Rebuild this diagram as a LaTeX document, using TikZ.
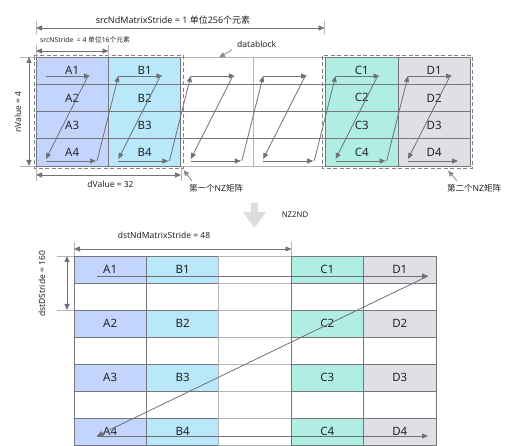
\documentclass[tikz,border=0pt]{standalone}
\usepackage{fontspec}
\setmainfont{Noto Sans}
\newfontfamily\cjk{Noto Sans CJK SC}
\usetikzlibrary{arrows.meta}
\definecolor{cA}{RGB}{196,213,253}
\definecolor{cB}{RGB}{184,232,250}
\definecolor{cC}{RGB}{176,237,226}
\definecolor{cD}{RGB}{224,224,228}
\definecolor{gridc}{RGB}{118,119,124}
\definecolor{lightc}{RGB}{180,181,185}
\definecolor{arrc}{RGB}{112,113,118}
\definecolor{txtc}{RGB}{35,35,38}
\definecolor{bigarr}{RGB}{220,221,224}
\definecolor{dashc}{RGB}{128,129,134}
\tikzset{
  cellbox/.style={draw=gridc, line width=0.9pt, inner sep=0pt, outer sep=0pt,
    minimum width=72.4pt, minimum height=27.25pt, text=txtc,
    font=\fontsize{11.5}{13}\selectfont},
  lcell/.style={cellbox, minimum height=27pt},
  wcell/.style={draw=lightc, line width=0.9pt, inner sep=0pt, outer sep=0pt,
    minimum width=72.4pt, minimum height=27.25pt},
  arr/.style={draw=arrc, line width=0.8pt, -{Triangle[length=6pt,width=5pt]}},
  dimarr/.style={draw=arrc, line width=0.8pt, {Triangle[length=6pt,width=5pt]}-{Triangle[length=6pt,width=5pt]}},
  tick/.style={draw=lightc, line width=0.8pt},
  lbl/.style={text=txtc, inner sep=0pt, font=\fontsize{8.5}{10}\selectfont},
  nzbox/.style={draw=dashc, line width=0.9pt, dash pattern=on 4pt off 2.5pt},
}
\begin{document}
\begin{tikzpicture}[x=1pt,y=-1pt]
\useasboundingbox (0,0) rectangle (522,446);
% ---------- top grid ----------
\foreach \r in {1,...,4}{
  \node[wcell] (tW\r) at ({36+72.4*2.5},{57+27.25*(\r-0.5)}) {};
  \node[wcell] (tX\r) at ({36+72.4*3.5},{57+27.25*(\r-0.5)}) {};
}
\foreach \r in {1,2,3}{
  \draw[gridc, line width=0.9pt] (tW\r.south west) -- (tX\r.south east);
}
\foreach \r in {1,...,4}{
  \node[cellbox, fill=cA] (tA\r) at ({36+72.4*0.5},{57+27.25*(\r-0.5)}) {A\r};
  \node[cellbox, fill=cB] (tB\r) at ({36+72.4*1.5},{57+27.25*(\r-0.5)}) {B\r};
  \node[cellbox, fill=cC] (tC\r) at ({36+72.4*4.5},{57+27.25*(\r-0.5)}) {C\r};
  \node[cellbox, fill=cD] (tD\r) at ({36+72.4*5.5},{57+27.25*(\r-0.5)}) {D\r};
}
% zigzag arrows
\foreach \i in {0,...,5}{
  \coordinate (ts\i) at ({36+72.4*\i+10},76);
  \coordinate (te\i) at ({36+72.4*\i+54},76);
  \coordinate (td\i) at ({36+72.4*\i+52},76);
  \coordinate (bl\i) at ({36+72.4*\i+10},159);
  \coordinate (bs\i) at ({36+72.4*\i+10},161);
  \coordinate (be\i) at ({36+72.4*\i+60},161);
  \coordinate (bu\i) at ({36+72.4*\i+61},161);
}
\foreach \i in {0,...,5}{
  \draw[arr] (ts\i) -- (te\i);
  \draw[arr] (td\i) -- (bl\i);
  \draw[arr] (bs\i) -- (be\i);
}
\foreach \i/\j in {0/1,1/2,2/3,3/4,4/5}{
  \draw[arr] (bu\i) -- (ts\j);
}
% NZ dashed boxes
\draw[nzbox] (34,55.7) rectangle (183.5,168);
\draw[nzbox] (322.5,55.7) rectangle (472.5,168.5);
% dimension: srcNdMatrixStride
\coordinate (s1a) at (36,21); \coordinate (s1b) at (36,34);
\coordinate (s2a) at (324.5,21); \coordinate (s2b) at (324.5,34);
\draw[tick] (s1a) -- (s1b);
\draw[tick] (s2a) -- (s2b);
\coordinate (sl) at (36,28); \coordinate (sr) at (324.5,28);
\draw[dimarr] (sl) -- (sr);
\node[lbl, font=\fontsize{9}{11}\selectfont] (nd) at (173,20) {srcNdMatrixStride = 1 {\cjk 单位}256{\cjk 个元素}};
% srcNStride
\coordinate (n1a) at (36,45); \coordinate (n1b) at (36,57);
\coordinate (n2a) at (108.5,45); \coordinate (n2b) at (108.5,57);
\draw[tick] (n1a) -- (n1b);
\draw[tick] (n2a) -- (n2b);
\coordinate (nl) at (36,51); \coordinate (nr) at (108.5,51);
\draw[dimarr] (nl) -- (nr);
\node[lbl, anchor=west, font=\fontsize{6.8}{8}\selectfont] (ns) at (40,39.5) {srcNStride\ \ = 4 {\cjk 单位}16{\cjk 个元素}};
% datablock
\node[lbl, anchor=west] (db) at (237,44) {datablock};
\coordinate (dbt) at (232,50); \coordinate (dbh) at (219,57.5);
\draw[arr, draw=arrc!80] (dbt) -- (dbh);
% nValue
\coordinate (v1a) at (20,57); \coordinate (v1b) at (36,57);
\coordinate (v2a) at (20,166); \coordinate (v2b) at (36,166);
\draw[tick] (v1a) -- (v1b);
\draw[tick] (v2a) -- (v2b);
\coordinate (vt) at (29,57); \coordinate (vb) at (29,166);
\draw[dimarr] (vt) -- (vb);
\node[lbl, rotate=90] (nv) at (18,112) {nValue = 4};
% dValue
\coordinate (d1a) at (36,167); \coordinate (d1b) at (36,181);
\coordinate (d2a) at (181,167); \coordinate (d2b) at (181,181);
\draw[tick] (d1a) -- (d1b);
\draw[tick] (d2a) -- (d2b);
\coordinate (dl) at (36,175); \coordinate (dr) at (181,175);
\draw[dimarr] (dl) -- (dr);
\node[lbl] (dv) at (110.5,184) {dValue = 32};
% NZ labels
\node[lbl, anchor=west] (nz1) at (189,188.5) {{\cjk 第一个}NZ{\cjk 矩阵}};
\coordinate (nz1t) at (192,181); \coordinate (nz1h) at (183.5,170);
\draw[arr, draw=arrc!80] (nz1t) -- (nz1h);
\node[lbl, anchor=west] (nz2) at (447,188.5) {{\cjk 第二个}NZ{\cjk 矩阵}};
\coordinate (nz2t) at (457,181); \coordinate (nz2h) at (448,170.5);
\draw[arr, draw=arrc!80] (nz2t) -- (nz2h);
% big down arrow
\fill[bigarr] (251,203) -- (258,203) -- (258,212) -- (266,212) -- (254.5,228) -- (243,212) -- (251,212) -- cycle;
\node[lbl, font=\fontsize{7.8}{9}\selectfont] (nz2nd) at (295,214.5) {NZ2ND};
% ---------- bottom grid ----------
\foreach \r [evaluate=\r as \y using {256+27*(2*\r-1.5)}] in {1,...,4}{
  \node[lcell, fill=cA] (bA\r) at ({74+72.4*0.5},\y) {A\r};
  \node[lcell, fill=cB] (bB\r) at ({74+72.4*1.5},\y) {B\r};
  \node[lcell, draw=lightc] (bW\r) at ({74+72.4*2.5},\y) {};
  \node[lcell, fill=cC] (bC\r) at ({74+72.4*3.5},\y) {C\r};
  \node[lcell, fill=cD] (bD\r) at ({74+72.4*4.5},\y) {D\r};
}
\foreach \r [evaluate=\r as \y using {256+27*(2*\r-0.5)}] in {1,2,3}{
  \node[lcell] (eA\r) at ({74+72.4*0.5},\y) {};
  \node[lcell] (eB\r) at ({74+72.4*1.5},\y) {};
  \node[lcell, draw=lightc] (eW\r) at ({74+72.4*2.5},\y) {};
  \node[lcell] (eC\r) at ({74+72.4*3.5},\y) {};
  \node[lcell] (eD\r) at ({74+72.4*4.5},\y) {};
}
% bottom arrows
\coordinate (p1) at (97,276); \coordinate (p2) at (428,276);
\coordinate (p3) at (97,436); \coordinate (p4) at (428,436);
\draw[arr] (p1) -- (p2);
\draw[arr] (p2) -- (p3);
\draw[arr] (p3) -- (p4);
% dstNdMatrixStride
\coordinate (m1a) at (74,242); \coordinate (m1b) at (74,256);
\coordinate (m2a) at (291.5,242); \coordinate (m2b) at (291.5,256);
\draw[tick] (m1a) -- (m1b);
\draw[tick] (m2a) -- (m2b);
\coordinate (ml) at (74,249); \coordinate (mr) at (291.5,249);
\draw[dimarr] (ml) -- (mr);
\node[lbl] (dst) at (164,235) {dstNdMatrixStride = 48};
% dstDStride
\coordinate (k1a) at (57,256); \coordinate (k1b) at (74,256);
\coordinate (k2a) at (57,310); \coordinate (k2b) at (74,310);
\draw[tick] (k1a) -- (k1b);
\draw[tick] (k2a) -- (k2b);
\coordinate (kt) at (67,256); \coordinate (kb) at (67,310);
\draw[dimarr] (kt) -- (kb);
\node[lbl, rotate=90] (dds) at (42,284) {dstDStride = 160};
\end{tikzpicture}
\end{document}
